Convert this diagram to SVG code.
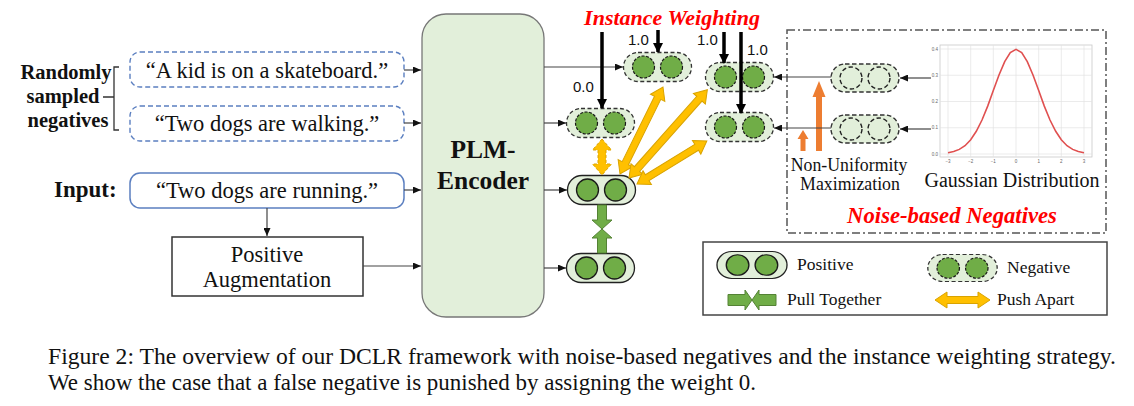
<svg xmlns="http://www.w3.org/2000/svg" xmlns:xlink="http://www.w3.org/1999/xlink" width="1134" height="406" viewBox="0 0 1134 406">
<style>
  .serif{font-family:"Liberation Serif","Times New Roman",serif;fill:#111}
  .sans{font-family:"Liberation Sans",Arial,sans-serif;fill:#111}
  .bold{font-weight:bold}
  .red{fill:#ff0000;font-weight:bold;font-style:italic}
  .sent{font-size:22.5px}
  .leg{font-size:17.5px}
  .conn{stroke:#444;stroke-width:1.2;fill:none}
  .thick{stroke:#000;stroke-width:3.5;fill:none}
  .yellow{fill:#ffc000;stroke:#d9a300;stroke-width:1}
  .green{fill:#70ad47;stroke:#548235;stroke-width:1}
  .orange{fill:#ed7d31}
  .grid{stroke:#e3e3e3;stroke-width:0.7}
  .tick{font-family:"Liberation Sans",Arial,sans-serif;font-size:4.5px;fill:#666}
</style>
<defs>
  <marker id="ah" markerUnits="userSpaceOnUse" markerWidth="8" markerHeight="7" refX="8" refY="3.5" orient="auto">
    <path d="M0,0 L8,3.5 L0,7 z" fill="#111"/>
  </marker>
  <marker id="ahb" markerUnits="userSpaceOnUse" markerWidth="10" markerHeight="10" refX="9" refY="5" orient="auto">
    <path d="M0,0 L10,5 L0,10 z" fill="#000"/>
  </marker>
  <g id="pos">
    <rect x="-34" y="-14.5" width="68" height="29" rx="14.5" fill="#e2efda" stroke="#222" stroke-width="1.3"/>
    <circle cx="-14" cy="0" r="11" fill="#70ad47" stroke="#1a1a1a" stroke-width="1.3"/>
    <circle cx="14" cy="0" r="11" fill="#70ad47" stroke="#1a1a1a" stroke-width="1.3"/>
  </g>
  <g id="neg">
    <rect x="-34" y="-14.5" width="68" height="29" rx="14.5" fill="#e2efda" stroke="#333" stroke-width="1.3" stroke-dasharray="4 2.5"/>
    <circle cx="-14" cy="0" r="11" fill="#70ad47" stroke="#1a1a1a" stroke-width="1.2" stroke-dasharray="3 1.5"/>
    <circle cx="14" cy="0" r="11" fill="#70ad47" stroke="#1a1a1a" stroke-width="1.2" stroke-dasharray="3 1.5"/>
  </g>
  <g id="noise">
    <rect x="-34" y="-14" width="68" height="28" rx="14" fill="#e2efda" stroke="#333" stroke-width="1.4" stroke-dasharray="4.5 2.5"/>
    <circle cx="-14" cy="0" r="11" fill="none" stroke="#222" stroke-width="1.4" stroke-dasharray="4.5 2.5"/>
    <circle cx="14" cy="0" r="11" fill="none" stroke="#222" stroke-width="1.4" stroke-dasharray="4.5 2.5"/>
  </g>
</defs>
<rect width="1134" height="406" fill="#fff"/>

<!-- left labels -->
<g id="label-negatives">
  <text class="serif bold" font-size="20.5" text-anchor="middle" x="66" y="79">Randomly</text>
  <text class="serif bold" font-size="20.5" text-anchor="middle" x="63" y="103">sampled</text>
  <text class="serif bold" font-size="20.5" text-anchor="middle" x="68" y="127">negatives</text>
  <path d="M119,67 H114 V130 H119 M103,97 H114" stroke="#333" stroke-width="1.3" fill="none"/>
</g>
<g id="label-input">
  <text class="serif bold" font-size="23" x="54" y="197">Input:</text>
</g>

<g id="neg-sent-1">
  <rect x="130" y="52" width="274" height="35" rx="10" fill="#fff" stroke="#5b7fc0" stroke-width="1.4" stroke-dasharray="5 3"/>
  <text class="serif sent" text-anchor="middle" x="267" y="78">“A kid is on a skateboard.”</text>
</g>
<g id="neg-sent-2">
  <rect x="130" y="106" width="274" height="35" rx="10" fill="#fff" stroke="#5b7fc0" stroke-width="1.4" stroke-dasharray="5 3"/>
  <text class="serif sent" text-anchor="middle" x="267" y="131">“Two dogs are walking.”</text>
</g>
<g id="input-sent">
  <rect x="130" y="173" width="274" height="35" rx="10" fill="#fff" stroke="#5b7fc0" stroke-width="1.5"/>
  <text class="serif sent" text-anchor="middle" x="267" y="198">“Two dogs are running.”</text>
</g>
<g id="positive-aug">
  <rect x="172" y="237" width="191" height="59" fill="#fff" stroke="#333" stroke-width="1.5"/>
  <text class="serif sent" text-anchor="middle" x="267" y="262">Positive</text>
  <text class="serif sent" text-anchor="middle" x="267" y="287">Augmentation</text>
</g>

<g id="encoder">
  <rect x="422" y="14" width="122" height="303" rx="24" fill="#e2efda" stroke="#777" stroke-width="1.3"/>
  <text class="serif bold" font-size="25.5" text-anchor="middle" x="483" y="158">PLM-</text>
  <text class="serif bold" font-size="25.5" text-anchor="middle" x="483" y="189">Encoder</text>
</g>

<g id="pill-neg-1"><use xlink:href="#neg" href="#neg" x="657.5" y="67"/></g>
<g id="pill-neg-2"><use xlink:href="#neg" href="#neg" x="600.5" y="123"/></g>
<g id="pill-anchor"><use xlink:href="#pos" href="#pos" x="601.5" y="190"/></g>
<g id="pill-pos"><use xlink:href="#pos" href="#pos" x="600.5" y="268"/></g>
<g id="pill-neg-3"><use xlink:href="#neg" href="#neg" x="739.5" y="77"/></g>
<g id="pill-neg-4"><use xlink:href="#neg" href="#neg" x="739.5" y="127"/></g>

<g id="instance-weighting-label">
  <text class="serif red" font-size="22" text-anchor="middle" x="672" y="25">Instance Weighting</text>
  <text class="sans" font-size="15" x="573" y="92">0.0</text>
  <text class="sans" font-size="15" x="628" y="45">1.0</text>
  <text class="sans" font-size="15" x="697" y="45">1.0</text>
  <text class="sans" font-size="15" x="747" y="55">1.0</text>
</g>

<g id="noise-negatives">
  <rect x="787" y="30" width="319" height="203" fill="none" stroke="#555" stroke-width="1.5" stroke-dasharray="8 3 2 3"/>
  <g id="noise-pill-1"><use xlink:href="#noise" href="#noise" x="865" y="78"/></g>
  <g id="noise-pill-2"><use xlink:href="#noise" href="#noise" x="865" y="129"/></g>
  <text class="serif" font-size="17.8" text-anchor="middle" x="849" y="171">Non-Uniformity</text>
  <text class="serif" font-size="17.8" text-anchor="middle" x="850" y="190">Maximization</text>
  <text class="serif" font-size="20" text-anchor="middle" x="1012" y="187">Gaussian Distribution</text>
  <text class="serif red" font-size="22.7" text-anchor="middle" x="952" y="223">Noise-based Negatives</text>
  <g id="gaussian-plot">
    <rect x="940" y="45" width="152" height="112" fill="#fff" stroke="#c8c8c8" stroke-width="0.8"/>
    <g class="grid">
      <line x1="948" y1="45" x2="948" y2="157"/><line x1="970.7" y1="45" x2="970.7" y2="157"/>
      <line x1="993.3" y1="45" x2="993.3" y2="157"/><line x1="1016" y1="45" x2="1016" y2="157"/>
      <line x1="1038.7" y1="45" x2="1038.7" y2="157"/><line x1="1061.3" y1="45" x2="1061.3" y2="157"/>
      <line x1="1084" y1="45" x2="1084" y2="157"/>
      <line x1="940" y1="49" x2="1092" y2="49"/><line x1="940" y1="75.25" x2="1092" y2="75.25"/>
      <line x1="940" y1="101.5" x2="1092" y2="101.5"/><line x1="940" y1="127.75" x2="1092" y2="127.75"/>
      <line x1="940" y1="154" x2="1092" y2="154"/>
    </g>
    <text class="tick" text-anchor="end" x="938" y="50.5">0.4</text>
    <text class="tick" text-anchor="end" x="938" y="76.8">0.3</text>
    <text class="tick" text-anchor="end" x="938" y="103">0.2</text>
    <text class="tick" text-anchor="end" x="938" y="129.3">0.1</text>
    <text class="tick" text-anchor="end" x="938" y="155.5">0.0</text>
    <text class="tick" text-anchor="middle" x="948" y="162.5">−3</text>
    <text class="tick" text-anchor="middle" x="970.7" y="162.5">−2</text>
    <text class="tick" text-anchor="middle" x="993.3" y="162.5">−1</text>
    <text class="tick" text-anchor="middle" x="1016" y="162.5">0</text>
    <text class="tick" text-anchor="middle" x="1038.7" y="162.5">1</text>
    <text class="tick" text-anchor="middle" x="1061.3" y="162.5">2</text>
    <text class="tick" text-anchor="middle" x="1084" y="162.5">3</text>
    <polyline fill="none" stroke="#e05050" stroke-width="1.6" points="948,152.8 953.7,151.6 959.3,149.4 965,145.7 970.7,139.8 976.3,131.3 982,120 987.7,106.1 993.3,90.5 999,75 1004.7,61.6 1010.3,52.5 1016,49.3 1021.7,52.5 1027.3,61.6 1033,75 1038.7,90.5 1044.3,106.1 1050,120 1055.7,131.3 1061.3,139.8 1067,145.7 1072.7,149.4 1078.3,151.6 1084,152.8"/>
  </g>
  <!-- non-uniformity orange arrows -->
  <polygon class="orange" points="816,151 822,151 822,97 825.5,97 819,81 812.5,97 816,97"/>
  <polygon class="orange" points="800.5,151 805.5,151 805.5,139 808.5,139 803,130 797.5,139 800.5,139"/>
</g>

<g id="legend">
  <rect x="703" y="242" width="404" height="73" fill="#fff" stroke="#444" stroke-width="1.5"/>
  <use xlink:href="#pos" href="#pos" transform="translate(752,265) scale(1.03,0.93)"/>
  <text class="serif leg" x="797" y="270">Positive</text>
  <use xlink:href="#neg" href="#neg" transform="translate(962.5,268) scale(1.02,0.93)"/>
  <text class="serif leg" x="1007" y="273">Negative</text>
  <polygon class="green" points="728,294.5 745,294.5 745,290 752,300 745,310 745,305.5 728,305.5"/>
  <polygon class="green" points="776,294.5 759,294.5 759,290 752,300 759,310 759,305.5 776,305.5"/>
  <text class="serif leg" x="787" y="305">Pull Together</text>
  <polygon class="yellow" points="935,300 947,292 947,296.5 978,296.5 978,292 990,300 978,308 978,303.5 947,303.5 947,308"/>
  <text class="serif leg" x="997" y="305">Push Apart</text>
</g>

<g id="connectors">
  <line class="conn" x1="404" y1="70" x2="421" y2="70" marker-end="url(#ah)"/>
  <line class="conn" x1="404" y1="123" x2="421" y2="123" marker-end="url(#ah)"/>
  <line class="conn" x1="404" y1="190" x2="421" y2="190" marker-end="url(#ah)"/>
  <line class="conn" x1="363" y1="266" x2="421" y2="266" marker-end="url(#ah)"/>
  <line class="conn" x1="267" y1="208" x2="267" y2="236" marker-end="url(#ah)"/>
  <line class="conn" x1="544" y1="67" x2="623" y2="67" marker-end="url(#ah)"/>
  <line class="conn" x1="544" y1="123" x2="566" y2="123" marker-end="url(#ah)"/>
  <line class="conn" x1="544" y1="190" x2="567" y2="190" marker-end="url(#ah)"/>
  <line class="conn" x1="544" y1="268" x2="566" y2="268" marker-end="url(#ah)"/>
  <line class="conn" x1="831" y1="77" x2="774" y2="77" marker-end="url(#ah)"/>
  <line class="conn" x1="831" y1="128" x2="774" y2="128" marker-end="url(#ah)"/>
  <line class="conn" x1="931" y1="78" x2="900" y2="78" marker-end="url(#ah)"/>
  <line class="conn" x1="931" y1="129" x2="900" y2="129" marker-end="url(#ah)"/>
  <!-- instance weights -->
  <line class="thick" x1="602" y1="32" x2="602" y2="108" marker-end="url(#ahb)"/>
  <line class="thick" x1="658" y1="30" x2="658" y2="52" marker-end="url(#ahb)"/>
  <line class="thick" x1="724" y1="32" x2="724" y2="63" marker-end="url(#ahb)"/>
  <line class="thick" x1="741" y1="32" x2="741" y2="113" marker-end="url(#ahb)"/>
  <!-- push apart -->
  <polygon class="yellow" transform="translate(620,174) rotate(-63.7)" points="0,0 12,-8 12,-3.5 85,-3.5 85,-8 97,0 85,8 85,3.5 12,3.5 12,8"/>
  <polygon class="yellow" transform="translate(629,178) rotate(-48.4)" points="0,0 12,-8 12,-3.5 106,-3.5 106,-8 118,0 106,8 106,3.5 12,3.5 12,8"/>
  <polygon class="yellow" transform="translate(637,184) rotate(-31.6)" points="0,0 12,-8 12,-3.5 70,-3.5 70,-8 82,0 70,8 70,3.5 12,3.5 12,8"/>
  <polygon id="push-dashed" fill="#ffc000" stroke="#d9a300" stroke-width="1" stroke-dasharray="3 2" points="602,139 611.5,150 606,150 606,164 611.5,164 602,175 592.5,164 598,164 598,150 592.5,150"/>
  <!-- pull together -->
  <polygon class="green" points="597.5,205 606.5,205 606.5,220 612,220 602,229 592,220 597.5,220"/>
  <polygon class="green" points="597.5,253 606.5,253 606.5,238 612,238 602,229 592,238 597.5,238"/>
</g>

<g id="caption">
  <text class="serif" font-size="23" x="48" y="364" textLength="1068" lengthAdjust="spacingAndGlyphs">Figure 2: The overview of our DCLR framework with noise-based negatives and the instance weighting strategy.</text>
  <text class="serif" font-size="23" x="48" y="390" textLength="708" lengthAdjust="spacingAndGlyphs">We show the case that a false negative is punished by assigning the weight 0.</text>
</g>
</svg>
